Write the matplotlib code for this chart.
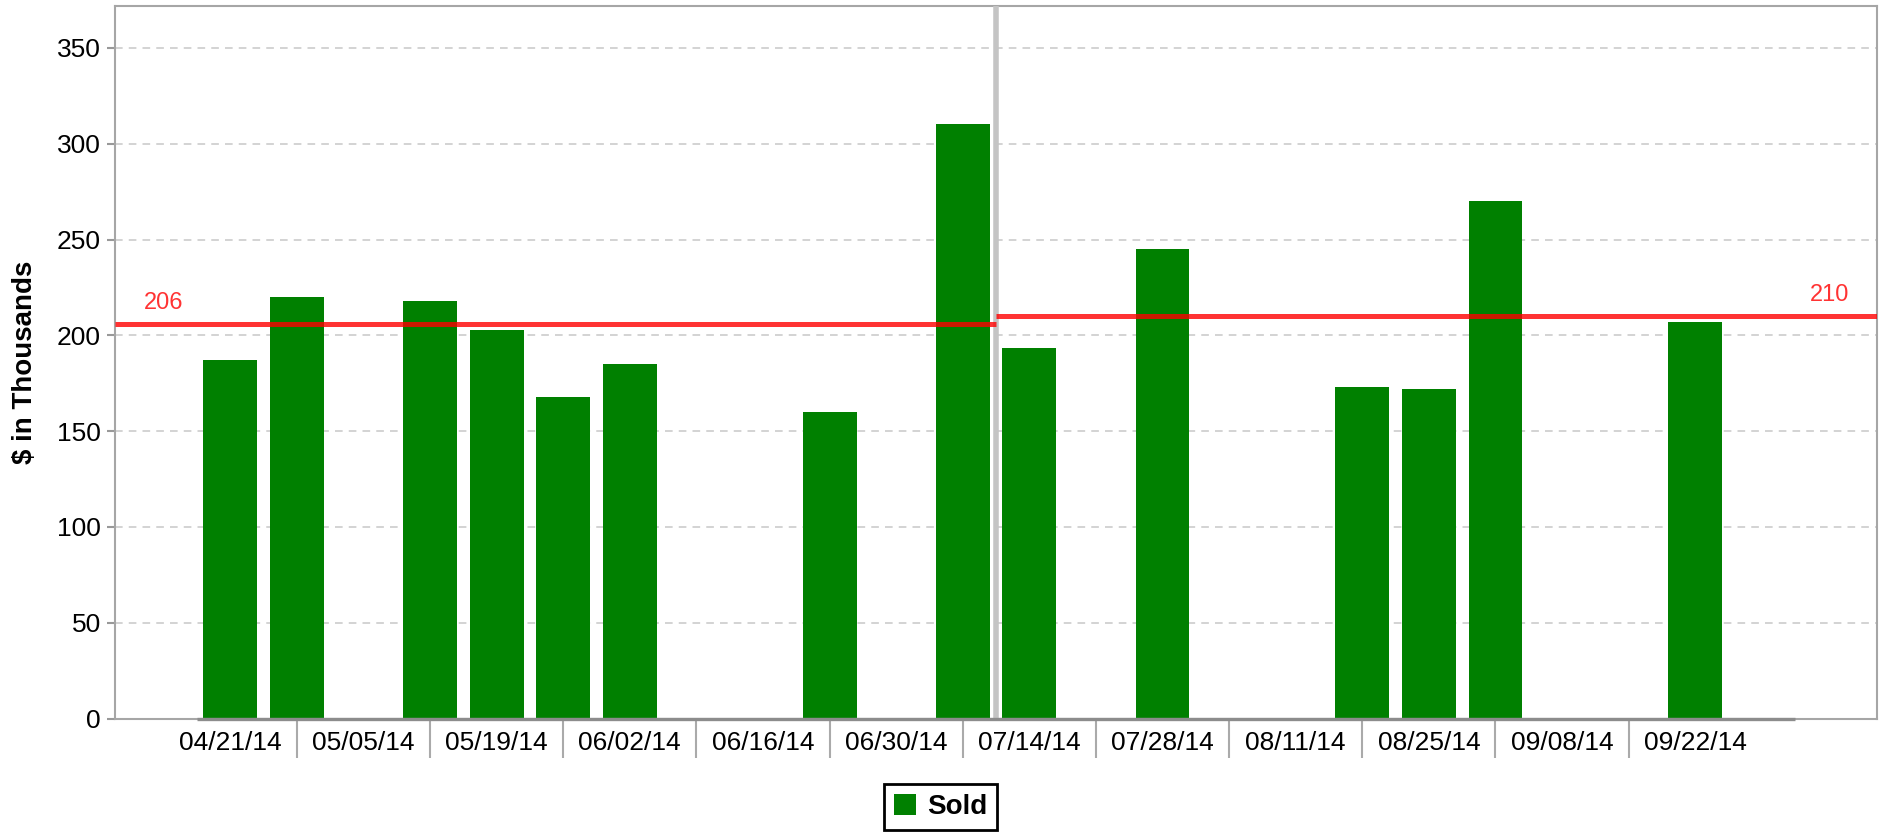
import numpy as np
import matplotlib.pyplot as plt
from matplotlib.transforms import blended_transform_factory

plt.rcParams['font.family'] = ['Liberation Sans', 'DejaVu Sans']

# weekly data
weeks = ['04/21/14', '04/28/14', '05/05/14', '05/12/14', '05/19/14', '05/26/14',
         '06/02/14', '06/09/14', '06/16/14', '06/23/14', '06/30/14', '07/07/14',
         '07/14/14', '07/21/14', '07/28/14', '08/04/14', '08/11/14', '08/18/14',
         '08/25/14', '09/01/14', '09/08/14', '09/15/14', '09/22/14', '09/29/14']
sold = [187, 220, np.nan, 218, 203, 168, 185, np.nan, np.nan, 160, np.nan, 310.5,
        193.5, np.nan, 245, np.nan, np.nan, 173, 172, 270, np.nan, np.nan, 207, np.nan]
split_after = '07/07/14'
avg_before = 206
avg_after = 210

x = np.arange(len(weeks))
split_x = weeks.index(split_after) + 0.5

fig = plt.figure(figsize=(18.81, 8.35), dpi=100)
ax = fig.add_axes([0.0611, 0.1395, 0.9368, 0.8533])

ax.bar(x, sold, width=0.81, color='#008000', label='Sold', zorder=2)

ax.set_xlim(-1.731, 24.73)
ax.set_ylim(0, 371.9)

# averages
ax.hlines(avg_before, -1.731, split_x, color='red', alpha=0.8, lw=3.6, zorder=4)
ax.hlines(avg_after, split_x, 24.73, color='red', alpha=0.8, lw=3.6, zorder=4)
ax.axvline(split_x, color='#c4c4c4', lw=4, zorder=3)
ax.annotate(str(avg_before), xy=(0.0165, avg_before),
            xycoords=blended_transform_factory(ax.transAxes, ax.transData),
            xytext=(0, 7), textcoords='offset points',
            color='#ff3333', fontsize=17, ha='left', va='bottom')
ax.annotate(str(avg_after), xy=(0.984, avg_after),
            xycoords=blended_transform_factory(ax.transAxes, ax.transData),
            xytext=(0, 7), textcoords='offset points',
            color='#ff3333', fontsize=17, ha='right', va='bottom')

# axes styling
ax.set_yticks(np.arange(0, 351, 50))
ax.yaxis.grid(True, color='#c8c8c8', linestyle=(0, (5, 4)), lw=1.1)
ax.set_axisbelow(True)
ax.tick_params(axis='y', labelsize=19, length=6, width=1.5, color='#999999', pad=4)
gl = ax.yaxis.get_gridlines()
gl[0].set_visible(False)

ax.set_xticks(x[::2])
ax.set_xticklabels(weeks[::2])
ax.set_xticks(x[1:-1:2], minor=True)
ax.tick_params(axis='x', which='major', labelsize=19, length=0, pad=9)
ax.tick_params(axis='x', which='minor', length=28, width=1.5, color='#aaaaaa')

for s in ['top', 'left', 'right', 'bottom']:
    ax.spines[s].set_color('#a6a6a6')
    ax.spines[s].set_linewidth(1.5)
ax.hlines(0, -0.5, len(weeks) - 0.5, color='#8c8c8c', lw=2.4, zorder=5, clip_on=False)

ax.set_ylabel('$ in Thousands', fontsize=20, fontweight='bold', labelpad=14)

fig.legend(loc='center', bbox_to_anchor=(0.5, 0.0335),
           prop={'weight': 'bold', 'size': 20}, frameon=True, fancybox=False,
           edgecolor='black', framealpha=1, handlelength=0.8, handleheight=0.8,
           handletextpad=0.4, borderpad=0.35, borderaxespad=0)
fig.legends[0].get_frame().set_linewidth(2)

plt.savefig('out.png', dpi=100)
